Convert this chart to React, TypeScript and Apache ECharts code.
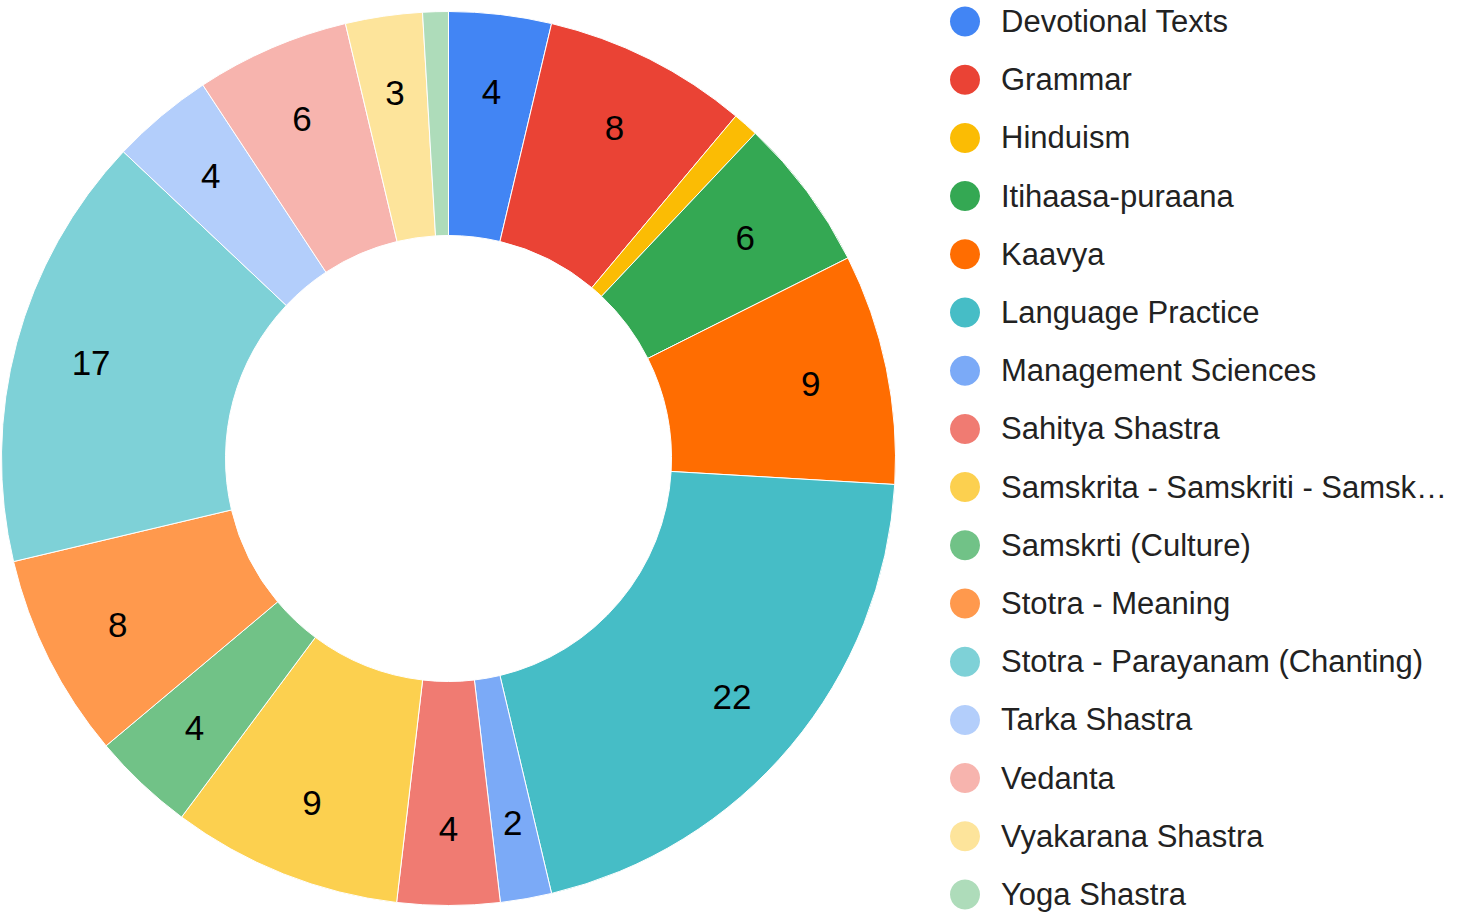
import React, { useEffect, useRef } from "react";
import * as echarts from "echarts";

const categories = [
  "Devotional Texts",
  "Grammar",
  "Hinduism",
  "Itihaasa-puraana",
  "Kaavya",
  "Language Practice",
  "Management Sciences",
  "Sahitya Shastra",
  "Samskrita - Samskriti - Samskara",
  "Samskrti (Culture)",
  "Stotra - Meaning",
  "Stotra - Parayanam (Chanting)",
  "Tarka Shastra",
  "Vedanta",
  "Vyakarana Shastra",
  "Yoga Shastra",
];

const values = [4, 8, 1, 6, 9, 22, 2, 4, 9, 4, 8, 17, 4, 6, 3, 1];

const colors = [
  "#4285F4",
  "#EA4335",
  "#FBBC04",
  "#34A853",
  "#FF6D01",
  "#46BDC6",
  "#7BAAF7",
  "#F07B72",
  "#FCD04F",
  "#71C287",
  "#FF994D",
  "#7ED1D7",
  "#B3CEFB",
  "#F7B4AE",
  "#FDE49B",
  "#AEDCBA",
];

const FONT = "'Liberation Sans', Arial, Helvetica, sans-serif";

export default function App() {
  const ref = useRef<HTMLDivElement>(null);

  useEffect(() => {
    if (!ref.current) return;
    const chart = echarts.init(ref.current, undefined, { renderer: "svg" });
    const data = categories.map((name, i) => ({
      name,
      value: values[i],
      itemStyle: { color: colors[i] },
    }));
    const labelData = categories.map((name, i) => ({ name, value: values[i] }));
    chart.setOption({
      animation: false,
      legend: {
        orient: "vertical",
        left: 950,
        top: 6,
        bottom: 0,
        padding: 0,
        icon: "circle",
        itemWidth: 30,
        itemHeight: 30,
        itemGap: 27.2,
        itemStyle: { borderWidth: 0 },
        data: categories,
        textStyle: {
          fontSize: 31,
          lineHeight: 30,
          fontFamily: FONT,
          color: "#222222",
          padding: [0, 0, 0, 16],
          width: 455,
          overflow: "truncate",
          ellipsis: "…",
        },
      },
      series: [
        {
          type: "pie",
          center: [448.5, 458.5],
          radius: [223, 447],
          startAngle: 90,
          clockwise: true,
          data,
          label: { show: false },
          labelLine: { show: false },
          itemStyle: { borderColor: "#ffffff", borderWidth: 1 },
          emphasis: { disabled: true },
        },
        {
          type: "pie",
          center: [448.5, 458.5],
          radius: [287, 447],
          startAngle: 90,
          clockwise: true,
          silent: true,
          legendHoverLink: false,
          minShowLabelAngle: 5,
          data: labelData,
          itemStyle: { color: "rgba(0,0,0,0)" },
          label: {
            show: true,
            position: "inside",
            formatter: "{c}",
            fontSize: 35,
            fontFamily: FONT,
            color: "#000000",
          },
          labelLine: { show: false },
          emphasis: { disabled: true },
        },
      ],
    });
    return () => chart.dispose();
  }, []);

  return (
    <div
      ref={ref}
      style={{ position: "absolute", left: 0, top: 0, width: 1472, height: 914, background: "#ffffff" }}
    />
  );
}
